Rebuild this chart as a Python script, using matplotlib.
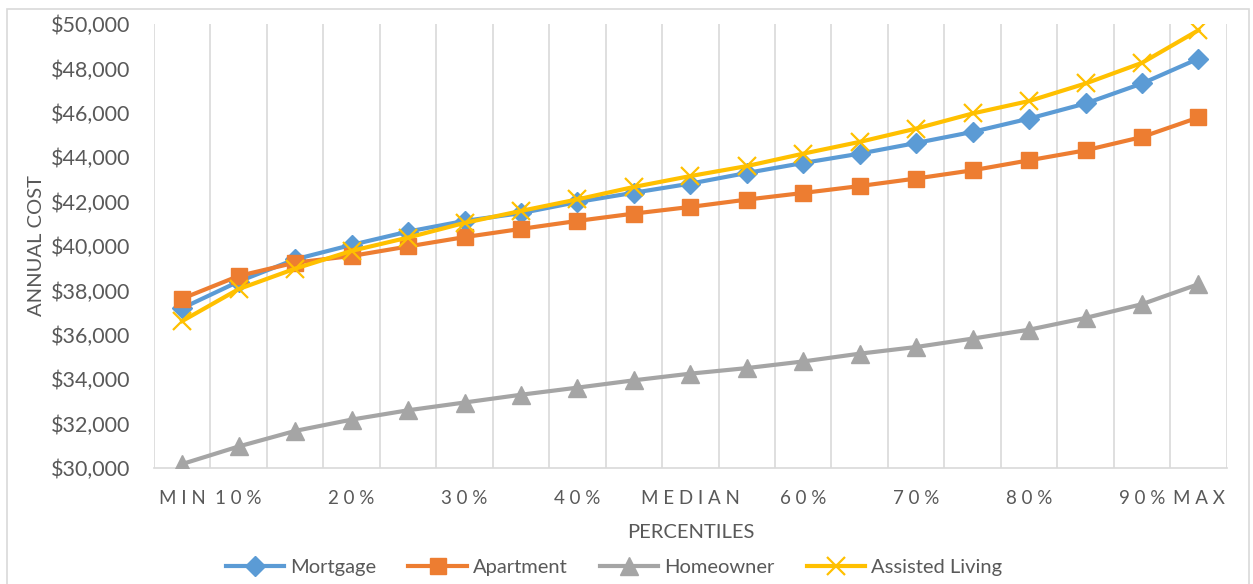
import matplotlib
matplotlib.use("Agg")
import matplotlib.pyplot as plt
from matplotlib.patches import Rectangle
import numpy as np

# percentile categories (only every other one carries a label)
categories = ["MIN", "10%", "15%", "20%", "25%", "30%", "35%", "40%", "45%", "MEDIAN",
              "55%", "60%", "65%", "70%", "75%", "80%", "85%", "90%", "MAX"]
shown_labels = ["MIN", "10%", "", "20%", "", "30%", "", "40%", "", "MEDIAN",
                "", "60%", "", "70%", "", "80%", "", "90%", "MAX"]

mortgage = [37200, 38400, 39400, 40050, 40650, 41130, 41480, 41980, 42400, 42810,
            43290, 43740, 44160, 44640, 45140, 45740, 46420, 47320, 48440]
apartment = [37630, 38650, 39250, 39550, 39980, 40400, 40770, 41130, 41460, 41760,
             42090, 42390, 42700, 43040, 43410, 43860, 44310, 44910, 45790]
homeowner = [30180, 30970, 31670, 32180, 32600, 32950, 33300, 33620, 33950, 34250,
             34500, 34800, 35150, 35450, 35830, 36230, 36760, 37380, 38280]
assisted = [36620, 38060, 38980, 39780, 40380, 41040, 41580, 42100, 42660, 43150,
            43600, 44160, 44690, 45290, 45970, 46530, 47320, 48250, 49720]

text_col = "#595959"
grid_col = "#D9D9D9"

plt.rcParams["font.family"] = ["Lato", "DejaVu Sans"]

fig = plt.figure(figsize=(12.53, 5.84), dpi=100)
ax = fig.add_axes([154 / 1253, 116 / 584, (1226.7 - 154) / 1253, (468 - 24) / 584])

# chart area border
fig.patches.append(Rectangle((7 / 1253, -0.01), (1249 - 7) / 1253, (584 - 9) / 584 + 0.01,
                             transform=fig.transFigure, fill=False,
                             edgecolor=grid_col, linewidth=1.2))

x = np.arange(len(categories))
lw = 3.0
ax.plot(x, mortgage, color="#5B9BD5", lw=lw, marker="D", ms=10,
        mec="#5B9BD5", label="Mortgage", zorder=3)
ax.plot(x, apartment, color="#ED7D31", lw=lw, marker="s", ms=12,
        mec="#ED7D31", label="Apartment", zorder=4)
ax.plot(x, homeowner, color="#A5A5A5", lw=lw, marker="^", ms=13,
        mec="#A5A5A5", label="Homeowner", zorder=5)
ax.plot(x, assisted, color="#FFC000", lw=lw, marker="x", ms=13, mew=1.6,
        mec="#FFC000", label="Assisted Living", zorder=6)

ax.set_xlim(-0.5, len(categories) - 0.5)
ax.set_ylim(30000, 50000)

# vertical gridlines between categories
for b in np.arange(-0.5, len(categories), 1.0):
    ax.axvline(b, color=grid_col, lw=1.2, zorder=1)

ax.set_xticks(x)
ax.set_xticklabels([" ".join(s) for s in shown_labels], fontsize=13.5, color=text_col)
ax.tick_params(axis="x", length=0, pad=16)
ax.set_yticks(np.arange(30000, 50001, 2000))
ax.set_yticklabels([f"${v:,.0f}" for v in np.arange(30000, 50001, 2000)],
                   fontsize=15.5, color=text_col)
ax.tick_params(axis="y", length=0, pad=17)

for side in ["top", "left", "right"]:
    ax.spines[side].set_visible(False)
ax.spines["bottom"].set_color(grid_col)
ax.spines["bottom"].set_linewidth(1.2)

ax.set_xlabel("PERCENTILES", fontsize=14.5, color=text_col, labelpad=12)
ax.set_ylabel("ANNUAL COST", fontsize=14.5, color=text_col, labelpad=4)

fig.legend(loc="center", bbox_to_anchor=(614 / 1253, 1 - 567 / 584), ncol=4,
           frameon=False, fontsize=14.5, labelcolor=text_col, handlelength=2.9,
           columnspacing=1.6, handletextpad=0.3)

fig.savefig("out.png", dpi=100)
